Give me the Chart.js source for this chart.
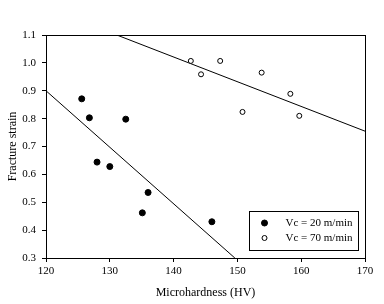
<!DOCTYPE html>
<html>
<head>
<meta charset="utf-8">
<script src="https://cdn.jsdelivr.net/npm/chart.js@4/dist/chart.umd.min.js"></script>
<style>
	body { margin:0; background:#fff; }
	#wrap { position:relative; width:384px; height:304px; }
</style>
</head>
<body>
<div id="wrap"><canvas id="c" width="384" height="304"></canvas></div>
<script>
// Vc = 20 m/min (filled)
const hv20 = [125.6, 126.8, 132.5, 128.0, 130.0, 136.0, 135.1, 146.0]
const strain20 = [0.871, 0.803, 0.798, 0.644, 0.628, 0.535, 0.462, 0.430]
// Vc = 70 m/min (open)
const hv70 = [142.7, 144.3, 147.3, 153.8, 158.3, 150.8, 159.7]
const strain70 = [1.007, 0.959, 1.007, 0.965, 0.889, 0.824, 0.810]
// trend lines (end points)
const fit20x = [120, 149.6]
const fit20y = [0.90, 0.30]
const fit70x = [131.1, 170]
const fit70y = [1.10, 0.755]

const xTicks = [120, 130, 140, 150, 160, 170]
const yTicks = [0.3, 0.4, 0.5, 0.6, 0.7, 0.8, 0.9, 1.0, 1.1]
const labels = ['Vc = 20 m/min', 'Vc = 70 m/min']

const pts = (xs, ys) => xs.map((x, i) => ({x:x, y:ys[i]}))
const serif = '"Liberation Serif", "Times New Roman", serif'

// frame round the plot area + legend box
const extras = {
	id: 'extras',
	afterDraw: c => {
		const {ctx, chartArea:a} = c
		ctx.save()
		ctx.strokeStyle = '#000'
		ctx.lineWidth = 1
		ctx.strokeRect(Math.round(a.left) + 0.5, Math.round(a.top) + 0.5, Math.round(a.right - a.left), Math.round(a.bottom - a.top))

		const bx = 249.5, by = 211.5, bw = 109, bh = 39
		ctx.fillStyle = '#fff'
		ctx.fillRect(bx, by, bw, bh)
		ctx.strokeRect(bx, by, bw, bh)
		ctx.font = '11px ' + serif
		ctx.textBaseline = 'middle'
		labels.forEach((t, i) => {
			const y = by + 11.5 + i * 15
			const ds = c.data.datasets[i]
			ctx.beginPath()
			ctx.arc(bx + 15, y, i ? 2.5 : 3, 0, Math.PI * 2)
			ctx.fillStyle = ds.pointBackgroundColor
			ctx.fill()
			ctx.strokeStyle = '#000'
			ctx.stroke()
			ctx.fillStyle = '#000'
			ctx.fillText(t, bx + 36, y)
		})
		ctx.restore()
	}
}

new Chart(document.getElementById('c'), {
	type: 'scatter',
	data: {
		datasets: [{
			label: labels[0],
			data: pts(hv20, strain20),
			pointRadius: 3,
			pointBackgroundColor: '#000',
			pointBorderColor: '#000',
			pointBorderWidth: 1,
		},
		{
			label: labels[1],
			data: pts(hv70, strain70),
			pointRadius: 2.5,
			pointBackgroundColor: '#fff',
			pointBorderColor: '#000',
			pointBorderWidth: 1,
		},
		{
			data: pts(fit20x, fit20y),
			showLine: true,
			pointRadius: 0,
			borderColor: '#000',
			borderWidth: 1,
		},
		{
			data: pts(fit70x, fit70y),
			showLine: true,
			pointRadius: 0,
			borderColor: '#000',
			borderWidth: 1,
		}]
	},
	options: {
		responsive: false,
		animation: false,
		layout: { padding: { top: 35, right: 19, left: 0, bottom: 0 } },
		plugins: {
			legend: { display: false },
			tooltip: { enabled: false },
		},
		scales: {
			x: {
				type: 'linear',
				min: 120, max: 170,
				afterFit: s => { s.height = 46 },
				afterBuildTicks: s => { s.ticks = xTicks.map(v => ({value:v})) },
				border: { color: '#000', width: 1 },
				grid: { drawOnChartArea: false, drawTicks: true, tickLength: 4, color: '#000' },
				ticks: { color: '#000', padding: 3, maxRotation: 0, font: { family: serif, size: 11 } },
				title: { display: true, text: 'Microhardness (HV)', color: '#000', padding: { top: 0, bottom: 4 }, font: { family: serif, size: 12 } }
			},
			y: {
				type: 'linear',
				min: 0.3, max: 1.1,
				afterFit: s => { s.width = 46 },
				afterBuildTicks: s => { s.ticks = yTicks.map(v => ({value:v})) },
				border: { color: '#000', width: 1 },
				grid: { drawOnChartArea: false, drawTicks: true, tickLength: 4, color: '#000' },
				ticks: { color: '#000', padding: 6, callback: v => v.toFixed(1), font: { family: serif, size: 11 } },
				title: { display: true, text: 'Fracture strain', color: '#000', padding: { top: 6, bottom: 0 }, font: { family: serif, size: 12 } }
			}
		}
	},
	plugins: [extras]
})
</script>
</body>
</html>
